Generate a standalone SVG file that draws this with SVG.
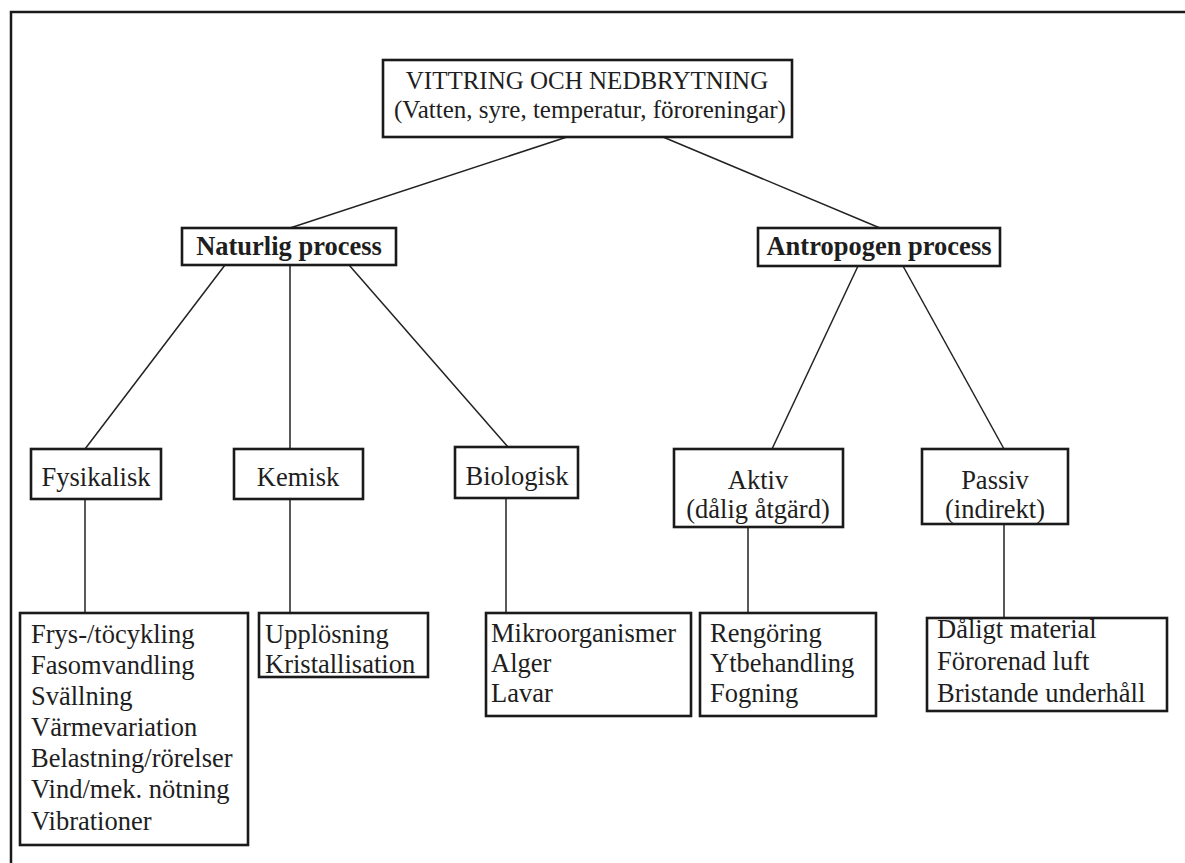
<svg xmlns="http://www.w3.org/2000/svg" width="1185" height="863" viewBox="0 0 1185 863">
  <style>
    .box { fill: #ffffff; stroke: #1a1a1a; stroke-width: 2.6; }
    .conn { stroke: #222222; stroke-width: 1.5; fill: none; }
    .frame { stroke: #1a1a1a; stroke-width: 2.5; fill: none; }
    text { font-family: "Liberation Serif", "Times New Roman", serif; fill: #1e1e1e; }
    .t { font-size: 26.5px; }
    .top { font-size: 25px; }
    .b { font-size: 26.5px; font-weight: bold; }
    .c { text-anchor: middle; }
  </style>
  <rect width="1185" height="863" fill="#ffffff"/>

  <!-- page frame: top and left rules -->
  <path class="frame" d="M11,863 V12 H1185"/>

  <!-- connectors -->
  <g id="connectors">
    <line class="conn" x1="567" y1="137" x2="290" y2="228"/>
    <line class="conn" x1="663" y1="137" x2="880" y2="228"/>
    <line class="conn" x1="225" y1="265" x2="85" y2="449"/>
    <line class="conn" x1="290" y1="265" x2="290" y2="449"/>
    <line class="conn" x1="349" y1="265" x2="508" y2="447"/>
    <line class="conn" x1="858" y1="266" x2="772" y2="449"/>
    <line class="conn" x1="903" y1="266" x2="1004" y2="449"/>
    <line class="conn" x1="85" y1="499" x2="85" y2="613"/>
    <line class="conn" x1="290" y1="499" x2="290" y2="613"/>
    <line class="conn" x1="506" y1="498" x2="506" y2="613"/>
    <line class="conn" x1="748" y1="527" x2="748" y2="613"/>
    <line class="conn" x1="1004" y1="524" x2="1004" y2="618"/>
  </g>

  <g id="root">
    <rect class="box" x="383" y="60" width="409" height="77"/>
    <text class="top c" x="587" y="89">VITTRING OCH NEDBRYTNING</text>
    <text class="top c" x="590" y="118">(Vatten, syre, temperatur, föroreningar)</text>
  </g>

  <g id="naturlig">
    <rect class="box" x="182" y="228" width="214" height="37"/>
    <text class="b c" x="289" y="255">Naturlig process</text>
  </g>

  <g id="antropogen">
    <rect class="box" x="758" y="228" width="242" height="38"/>
    <text class="b c" x="879" y="255">Antropogen process</text>
  </g>

  <g id="fysikalisk">
    <rect class="box" x="31" y="449" width="130" height="50"/>
    <text class="t c" x="96" y="486">Fysikalisk</text>
  </g>

  <g id="kemisk">
    <rect class="box" x="234" y="449" width="129" height="50"/>
    <text class="t c" x="298" y="486">Kemisk</text>
  </g>

  <g id="biologisk">
    <rect class="box" x="455" y="447" width="123" height="51"/>
    <text class="t c" x="517" y="485">Biologisk</text>
  </g>

  <g id="aktiv">
    <rect class="box" x="674" y="449" width="169" height="78"/>
    <text class="t c" x="758" y="489">Aktiv</text>
    <text class="t c" x="758" y="518">(dålig åtgärd)</text>
  </g>

  <g id="passiv">
    <rect class="box" x="922" y="449" width="146" height="75"/>
    <text class="t c" x="995" y="489">Passiv</text>
    <text class="t c" x="995" y="518">(indirekt)</text>
  </g>

  <g id="fysikalisk-list">
    <rect class="box" x="20" y="613" width="228" height="232"/>
    <text class="t" x="31" y="643">Frys-/töcykling</text>
    <text class="t" x="31" y="674">Fasomvandling</text>
    <text class="t" x="31" y="705">Svällning</text>
    <text class="t" x="31" y="736">Värmevariation</text>
    <text class="t" x="31" y="767">Belastning/rörelser</text>
    <text class="t" x="31" y="798">Vind/mek. nötning</text>
    <text class="t" x="31" y="830">Vibrationer</text>
  </g>

  <g id="kemisk-list">
    <rect class="box" x="259" y="613" width="169" height="64"/>
    <text class="t" x="265" y="643">Upplösning</text>
    <text class="t" x="265" y="673">Kristallisation</text>
  </g>

  <g id="biologisk-list">
    <rect class="box" x="486" y="613" width="205" height="103"/>
    <text class="t" x="491" y="642">Mikroorganismer</text>
    <text class="t" x="491" y="672">Alger</text>
    <text class="t" x="491" y="702">Lavar</text>
  </g>

  <g id="aktiv-list">
    <rect class="box" x="700" y="613" width="176" height="103"/>
    <text class="t" x="710" y="642">Rengöring</text>
    <text class="t" x="710" y="672">Ytbehandling</text>
    <text class="t" x="710" y="702">Fogning</text>
  </g>

  <g id="passiv-list">
    <rect class="box" x="927" y="618" width="240" height="93"/>
    <text class="t" x="937" y="638">Dåligt material</text>
    <text class="t" x="937" y="670">Förorenad luft</text>
    <text class="t" x="937" y="702">Bristande underhåll</text>
  </g>
</svg>
